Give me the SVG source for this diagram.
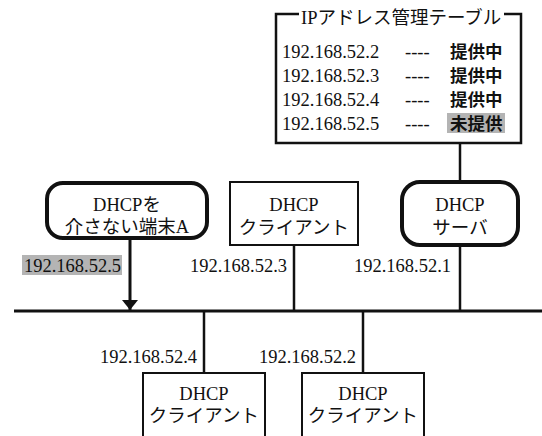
<svg xmlns="http://www.w3.org/2000/svg" width="542" height="436" viewBox="0 0 542 436">
<style>
text{font-family:"Liberation Serif","Noto Sans CJK JP",serif;font-size:18.5px;fill:#111}
.c{text-anchor:middle}
.r{text-anchor:end}
.b{font-family:"Noto Sans CJK JP","Noto Sans CJK SC",sans-serif;font-weight:bold;font-size:17.5px}
.box{fill:#fff;stroke:#111;stroke-width:2}
.rbox{fill:#fff;stroke:#111;stroke-width:4}
.ln{stroke:#111;stroke-width:2.5;fill:none}
.hl{fill:#b4b4b4}
</style>
<defs>
<marker id="arr" viewBox="0 0 10 16" refX="10" refY="8" markerWidth="10" markerHeight="16" markerUnits="userSpaceOnUse" orient="auto">
<path d="M0,0 L10,8 L0,16 Z" fill="#111"/>
</marker>
</defs>
<rect width="542" height="436" fill="#fff"/>
<g id="connectors">
<line class="ln" x1="14" y1="311" x2="542" y2="311" style="stroke-width:3"/>
<line class="ln" x1="460" y1="143" x2="460" y2="182"/>
<line class="ln" x1="460" y1="245" x2="460" y2="311"/>
<line class="ln" x1="294" y1="245" x2="294" y2="311"/>
<line class="ln" x1="130" y1="238" x2="130" y2="310" marker-end="url(#arr)" style="stroke-width:3"/>
<line class="ln" x1="204" y1="311" x2="204" y2="373"/>
<line class="ln" x1="363" y1="311" x2="363" y2="373"/>
<rect class="hl" x="22" y="255" width="100" height="20"/>
<text class="r" x="121" y="272">192.168.52.5</text>
<text class="r" x="287" y="272">192.168.52.3</text>
<text class="r" x="451" y="272">192.168.52.1</text>
<text class="r" x="197" y="363">192.168.52.4</text>
<text class="r" x="356" y="363">192.168.52.2</text>
</g>
<g id="table">
<path d="M299,14 H276 V143 H521 V14 H504" fill="none" stroke="#111" stroke-width="2.5"/>
<text x="301" y="24">IPアドレス管理テーブル</text>
<text x="282" y="58">192.168.52.2</text>
<text x="405" y="58">----</text>
<text class="b" x="450" y="58">提供中</text>
<text x="282" y="82">192.168.52.3</text>
<text x="405" y="82">----</text>
<text class="b" x="450" y="82">提供中</text>
<text x="282" y="106">192.168.52.4</text>
<text x="405" y="106">----</text>
<text class="b" x="450" y="106">提供中</text>
<text x="282" y="130">192.168.52.5</text>
<text x="405" y="130">----</text>
<rect class="hl" x="447" y="113" width="58" height="20"/>
<text class="b" x="450" y="130">未提供</text>
</g>
<g id="server">
<rect class="rbox" x="402" y="182" width="116" height="63" rx="18"/>
<text class="c" x="460" y="211">DHCP</text>
<text class="c" x="460" y="234">サーバ</text>
</g>
<g id="terminalA">
<rect class="rbox" x="47" y="183" width="160" height="55" rx="16"/>
<text class="c" x="127" y="211">DHCPを</text>
<text class="c" x="127" y="233">介さない端末A</text>
</g>
<g id="client3">
<rect class="box" x="230" y="182" width="128" height="63"/>
<text class="c" x="294" y="211">DHCP</text>
<text class="c" x="294" y="234">クライアント</text>
</g>
<g id="client4">
<rect class="box" x="143" y="373" width="122" height="70"/>
<text class="c" x="204" y="400">DHCP</text>
<text class="c" x="204" y="422">クライアント</text>
</g>
<g id="client2">
<rect class="box" x="302" y="373" width="122" height="70"/>
<text class="c" x="363" y="400">DHCP</text>
<text class="c" x="363" y="422">クライアント</text>
</g>
</svg>
